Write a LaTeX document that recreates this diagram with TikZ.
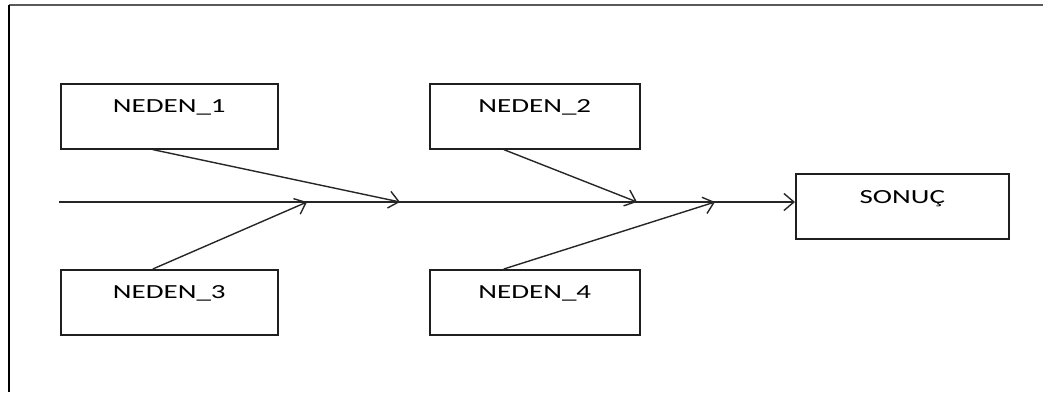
\documentclass[tikz,border=0pt]{standalone}
\usepackage{fontspec}
\usepackage{graphicx}
\setmainfont{Carlito}
\usetikzlibrary{arrows.meta}
\newcommand{\wtxt}[1]{\scalebox{1.45}[1]{#1}}
\tikzset{
  box/.style={draw=black!88, line width=1.6pt, rectangle, inner sep=0pt,
    minimum width=#1, text height=29pt, text depth=36pt,
    font=\fontsize{20pt}{24pt}\selectfont},
  conn/.style={draw=black!85, line width=1.4pt, -{Straight Barb[length=10pt,width=17pt,line width=1.4pt]}},
}
\begin{document}
\begin{tikzpicture}[x=1pt,y=-1pt]
\useasboundingbox (0,0) rectangle (1043,392);
% frame
\draw[black!65, line width=1.5pt] (9,5) -- (1043,5);
\draw[black, line width=2pt] (9,5) -- (9,392);
% boxes
\node[box=217pt, anchor=north west] (n1) at (60,83) {\wtxt{NEDEN\_1}};
\node[box=210pt, anchor=north west] (n2) at (429,83) {\wtxt{NEDEN\_2}};
\node[box=217pt, anchor=north west] (n3) at (60,269) {\wtxt{NEDEN\_3}};
\node[box=210pt, anchor=north west] (n4) at (429,269) {\wtxt{NEDEN\_4}};
\node[box=213pt, anchor=north west, text height=30pt, text depth=35pt] (s) at (795,173) {\wtxt{SONUÇ}};
% spine
\coordinate (start) at (59,202);
\coordinate (e1) at (400,202);
\coordinate (e2) at (637,202);
\coordinate (e3) at (307,202);
\coordinate (e4) at (715,202);
\draw[conn] (start) -- (start -| s.west);
\draw[conn] ([xshift=-16.5pt]n1.south) -- (e1);
\draw[conn] ([xshift=-31pt]n2.south) -- (e2);
\draw[conn] ([xshift=-16.5pt]n3.north) -- (e3);
\draw[conn] ([xshift=-31pt]n4.north) -- (e4);
\end{tikzpicture}
\end{document}
